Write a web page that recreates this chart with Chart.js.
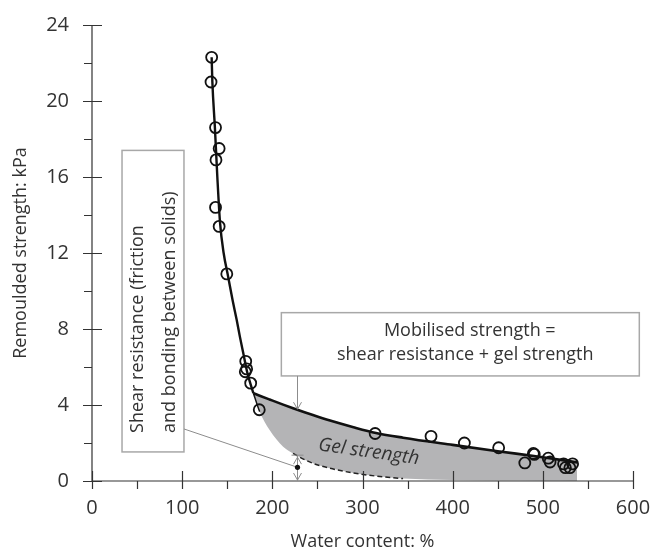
<!DOCTYPE html>
<html>
<head>
<meta charset="utf-8">
<script src="https://cdn.jsdelivr.net/npm/chart.js@4.4.1/dist/chart.umd.min.js"></script>
<style>
  html, body { margin: 0; padding: 0; background: #fff; }
  #wrap { width: 650px; height: 548px; }
</style>
</head>
<body>
<div id="wrap"><canvas id="c" width="650" height="548"></canvas></div>
<script>
// Measured remoulded strength against water content
const sampleWater = [132.7, 132, 137, 141, 137.5, 137, 141, 149.5, 170.5, 171.5, 170, 176, 185.5,
                     314, 376, 413, 451, 480, 489.5, 490.5, 506, 508, 523, 525, 530, 533];
const sampleStrength = [22.3, 21.0, 18.6, 17.5, 16.9, 14.4, 13.4, 10.9, 6.3, 5.9, 5.75, 5.15, 3.75,
                        2.5, 2.35, 2.0, 1.75, 0.95, 1.45, 1.4, 1.2, 1.0, 0.9, 0.7, 0.7, 0.9];

// Fitted curve on the steep (low water content) branch
const steepWater = [132.7, 133.5, 136.3, 139, 142, 146, 151, 156, 160.5, 164, 167.8, 172, 175.5, 179];
const steepStrength = [22.3, 21.0, 18.6, 16.0, 13.6, 12.0, 10.75, 9.5, 8.47, 7.6, 6.72, 5.75, 5.15, 4.62];

// Mobilised strength (upper) and shear resistance (lower) over the gel range
const gelWater = [179, 186, 197, 212, 223, 245, 264, 290, 315, 345, 400, 450, 500, 538];
const mobilisedStrength = [4.62, 4.49, 4.29, 4.02, 3.83, 3.47, 3.18, 2.83, 2.53, 2.28, 1.9, 1.57, 1.25, 0.98];
const shearResistance = [4.62, 3.65, 2.68, 1.8, 1.45, 0.93, 0.67, 0.42, 0.26, 0.13, 0.05, 0.02, 0.01, 0];

// Axis ticks
const xTickValues = [0, 100, 200, 300, 400, 500, 600];
const xMinorTicks = [50, 150, 250, 350, 450, 550];
const yTickValues = [0, 4, 8, 12, 16, 20, 24];
const yMinorTicks = [2, 6, 10, 14, 18, 22];

const FONT = "'Open Sans', 'DejaVu Sans', sans-serif";
const TEXT = '#333';

const pts = (xs, ys) => xs.map((v, i) => ({ x: v, y: ys[i] }));

// Axis lines with crossing major ticks and outward minor ticks
const axisTicks = {
  id: 'axisTicks',
  afterDraw(chart) {
    const { ctx, scales: { x, y }, chartArea: a } = chart;
    ctx.save();
    ctx.strokeStyle = '#333';
    ctx.lineWidth = 1.2;
    ctx.beginPath();
    ctx.moveTo(a.left, a.top); ctx.lineTo(a.left, a.bottom); ctx.lineTo(a.right, a.bottom);
    xTickValues.forEach(v => { const p = Math.round(x.getPixelForValue(v)) + 0.5; ctx.moveTo(p, a.bottom - 10); ctx.lineTo(p, a.bottom + 8); });
    xMinorTicks.forEach(v => { const p = Math.round(x.getPixelForValue(v)) + 0.5; ctx.moveTo(p, a.bottom); ctx.lineTo(p, a.bottom + 8); });
    yTickValues.forEach(v => { const p = Math.round(y.getPixelForValue(v)) + 0.5; ctx.moveTo(a.left - 9, p); ctx.lineTo(a.left + 10, p); });
    yMinorTicks.forEach(v => { const p = Math.round(y.getPixelForValue(v)) + 0.5; ctx.moveTo(a.left - 8, p); ctx.lineTo(a.left, p); });
    ctx.stroke();
    ctx.restore();
  }
};

function chevron(ctx, x, y, dir) {
  ctx.moveTo(x - 4, y - 7 * dir); ctx.lineTo(x, y); ctx.lineTo(x + 4, y - 7 * dir);
}

// Explanatory boxes, arrows and labels
const notes = {
  id: 'notes',
  afterDraw(chart) {
    const { ctx, scales: { x, y } } = chart;
    const px = v => x.getPixelForValue(v), py = v => y.getPixelForValue(v);
    ctx.save();

    // Mobilised strength box
    ctx.strokeStyle = '#a8a8a8';
    ctx.lineWidth = 1.5;
    ctx.strokeRect(px(210), py(8.86), px(607) - px(210), py(5.53) - py(8.86));
    ctx.fillStyle = TEXT;
    ctx.font = `18px ${FONT}`;
    ctx.textAlign = 'center';
    ctx.textBaseline = 'middle';
    ctx.fillText('Mobilised strength =', px(419), py(7.9));
    ctx.fillText('shear resistance + gel strength', px(414), py(6.63));

    // Shear resistance box with vertical text
    ctx.strokeRect(px(33.3), py(17.4), px(102) - px(33.3), py(1.53) - py(17.4));
    ctx.save();
    ctx.translate(px(51), py(2.53));
    ctx.rotate(-Math.PI / 2);
    ctx.textAlign = 'left';
    ctx.fillText('Shear resistance (friction', 0, 0);
    ctx.restore();
    ctx.save();
    ctx.translate(px(86.5), py(2.53));
    ctx.rotate(-Math.PI / 2);
    ctx.textAlign = 'left';
    ctx.fillText('and bonding between solids)', 0, 0);
    ctx.restore();

    // Leader line and arrows at w = 227 %
    const ax = Math.round(px(227)) + 0.5;
    ctx.strokeStyle = '#8c8c8c';
    ctx.lineWidth = 1;
    ctx.beginPath();
    ctx.moveTo(px(102), py(2.74)); ctx.lineTo(ax, py(0.72));
    // from the box down to the mobilised curve
    ctx.moveTo(ax, py(5.53)); ctx.lineTo(ax, py(3.78));
    chevron(ctx, ax, py(3.78), 1);
    // shear resistance span
    ctx.moveTo(ax - 6, py(1.36)); ctx.lineTo(ax + 6, py(1.36));
    ctx.moveTo(ax, py(1.36)); ctx.lineTo(ax, py(0));
    chevron(ctx, ax, py(1.36) + 2, -1);
    chevron(ctx, ax, py(0) - 1, 1);
    ctx.stroke();
    ctx.fillStyle = '#111';
    ctx.beginPath();
    ctx.arc(ax, py(0.72), 2.6, 0, Math.PI * 2);
    ctx.fill();

    // Gel strength label
    ctx.save();
    ctx.translate(px(307), py(1.53));
    ctx.rotate(8 * Math.PI / 180);
    ctx.fillStyle = TEXT;
    ctx.font = `italic 19px ${FONT}`;
    ctx.textAlign = 'center';
    ctx.textBaseline = 'middle';
    ctx.fillText('Gel strength', 0, 0);
    ctx.restore();

    ctx.restore();
  }
};

new Chart(document.getElementById('c'), {
  type: 'scatter',
  data: {
    datasets: [
      {
        label: 'Mobilised strength',
        data: pts(gelWater, mobilisedStrength),
        showLine: true,
        borderColor: '#111',
        borderWidth: 2.6,
        pointRadius: 0,
        cubicInterpolationMode: 'monotone',
        fill: { target: 1 },
        backgroundColor: '#b4b4b6',
        order: 2
      },
      {
        // plain lower edge used as the fill boundary
        label: 'Gel floor',
        data: pts(gelWater, shearResistance),
        showLine: true,
        borderWidth: 0,
        borderColor: 'rgba(0,0,0,0)',
        pointRadius: 0,
        cubicInterpolationMode: 'monotone',
        fill: false,
        order: 4
      },
      {
        label: 'Shear resistance',
        data: pts(gelWater, shearResistance),
        showLine: true,
        borderWidth: 1.5,
        pointRadius: 0,
        cubicInterpolationMode: 'monotone',
        fill: false,
        segment: {
          borderColor: c => {
            const w = c.p0.parsed.x;
            if (w < 186) return '#111';
            if (w >= 223 && w < 345) return '#222';
            return 'rgba(0,0,0,0)';
          },
          borderDash: c => (c.p0.parsed.x >= 223 ? [5, 3] : [])
        },
        order: 3
      },
      {
        label: 'Steep branch',
        data: pts(steepWater, steepStrength),
        showLine: true,
        borderColor: '#111',
        borderWidth: 2.4,
        pointRadius: 0,
        cubicInterpolationMode: 'monotone',
        fill: false,
        order: 1
      },
      {
        label: 'Measured',
        data: pts(sampleWater, sampleStrength),
        showLine: false,
        pointStyle: 'circle',
        pointRadius: 5.5,
        pointBorderWidth: 1.8,
        pointBorderColor: '#111',
        pointBackgroundColor: 'rgba(0,0,0,0)',
        order: 0
      }
    ]
  },
  options: {
    responsive: false,
    devicePixelRatio: 1,
    animation: false,
    layout: { padding: { top: 25, right: 17, left: 0, bottom: 0 } },
    plugins: {
      legend: { display: false },
      tooltip: { enabled: false },
      filler: { drawTime: 'beforeDatasetsDraw' }
    },
    scales: {
      x: {
        type: 'linear',
        min: 0, max: 600,
        afterBuildTicks: s => { s.ticks = xTickValues.map(v => ({ value: v })); },
        afterFit: s => { s.height = 67; s.paddingLeft = 0; s.paddingRight = 0; },
        grid: { display: true, drawOnChartArea: false, drawTicks: true, tickLength: 8, color: 'rgba(0,0,0,0)' },
        border: { display: false },
        ticks: { color: TEXT, font: { family: FONT, size: 20 }, padding: 7, maxRotation: 0 },
        title: { display: true, text: 'Water content: %', color: TEXT, font: { family: FONT, size: 18 }, padding: { top: 0, bottom: -5 } }
      },
      y: {
        type: 'linear',
        min: 0, max: 24,
        afterBuildTicks: s => { s.ticks = yTickValues.map(v => ({ value: v })); },
        afterFit: s => { s.width = 92; s.paddingTop = 0; s.paddingBottom = 0; },
        grid: { display: true, drawOnChartArea: false, drawTicks: true, tickLength: 9, color: 'rgba(0,0,0,0)' },
        border: { display: false },
        ticks: { color: TEXT, font: { family: FONT, size: 20 }, padding: 14 },
        title: { display: true, text: 'Remoulded strength: kPa', color: TEXT, font: { family: FONT, size: 18 }, padding: { top: 10, bottom: 0 } }
      }
    }
  },
  plugins: [axisTicks, notes]
});
</script>
</body>
</html>
